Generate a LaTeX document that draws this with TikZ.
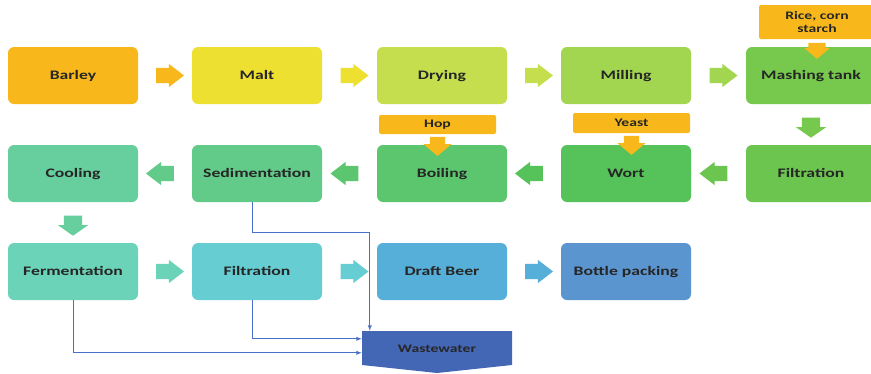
\documentclass[tikz,border=0pt]{standalone}
\usepackage{fontspec}
\setmainfont{Carlito}
\newfontfamily\boxfont[FakeStretch=1.36]{Carlito}
\usetikzlibrary{shapes.arrows,calc,arrows}

\definecolor{barleyc}{HTML}{F8B81C}
\definecolor{maltc}{HTML}{EEE030}
\definecolor{dryingc}{HTML}{C5DE4E}
\definecolor{millingc}{HTML}{A2D650}
\definecolor{mashc}{HTML}{76C94D}
\definecolor{filtac}{HTML}{6CC54F}
\definecolor{wortc}{HTML}{56C25A}
\definecolor{boilc}{HTML}{5CC66E}
\definecolor{sedimc}{HTML}{62CB8A}
\definecolor{coolc}{HTML}{67CF9E}
\definecolor{fermc}{HTML}{6AD3B8}
\definecolor{filtbc}{HTML}{66CDD3}
\definecolor{draftc}{HTML}{55AFD8}
\definecolor{bottlec}{HTML}{5B95D0}
\definecolor{wastec}{HTML}{4467B5}
\definecolor{tagc}{HTML}{F8B81C}
\definecolor{linec}{HTML}{4A6FC9}

\begin{document}
\begin{tikzpicture}[x=1pt,y=-1pt,
  box/.style={rounded corners=6pt,minimum width=130pt,minimum height=57pt,
    inner sep=0pt,text height=10pt,text depth=2.4pt,text=black!85,
    font=\boxfont\bfseries\fontsize{13}{15}\selectfont},
  tag/.style={rounded corners=2pt,fill=tagc,inner sep=0pt,align=center,
    text=black!85,font=\boxfont\bfseries\fontsize{11.5}{13}\selectfont},
  harrow/.style={single arrow,inner xsep=0pt,inner ysep=7.5pt,minimum height=28pt,
    single arrow head extend=4pt,single arrow tip angle=75},
  varrow/.style={single arrow,inner ysep=0pt,inner xsep=9pt,minimum height=20pt,
    single arrow head extend=6pt,single arrow tip angle=110,shape border rotate=270},
  tarrow/.style={varrow,inner xsep=7.5pt,minimum height=19pt,
    single arrow head extend=6.5pt,single arrow tip angle=100,fill=tagc},
  wline/.style={draw=linec,line width=0.9pt,-latex}]
  \clip (0,0) rectangle (871,373);

  % row 1
  \node[box,fill=barleyc]  (barley) at (73,75.5)  {Barley};
  \node[box,fill=maltc]    (malt)   at (257,75.5) {Malt};
  \node[box,fill=dryingc]  (drying) at (442,75.5) {Drying};
  \node[box,fill=millingc] (mill)   at (626,75.5) {Milling};
  \node[box,fill=mashc]    (mash)   at (811,75.5) {Mashing tank};
  % row 2
  \node[box,fill=coolc]  (cool)  at (73,173.5)  {Cooling};
  \node[box,fill=sedimc] (sedim) at (257,173.5) {Sedimentation};
  \node[box,fill=boilc]  (boil)  at (442,173.5) {Boiling};
  \node[box,fill=wortc]  (wort)  at (626,173.5) {Wort};
  \node[box,fill=filtac] (filta) at (811,173.5) {Filtration};
  % row 3
  \node[box,fill=fermc]   (ferm)   at (73,271.5)  {Fermentation};
  \node[box,fill=filtbc]  (filtb)  at (257,271.5) {Filtration};
  \node[box,fill=draftc]  (draft)  at (442,271.5) {Draft Beer};
  \node[box,fill=bottlec] (bottle) at (626,271.5) {Bottle packing};

  % block arrows
  \foreach \a/\b/\c/\r in {barley/malt/barleyc/0,malt/drying/maltc/0,
      drying/mill/dryingc/0,mill/mash/millingc/0,filta/wort/filtac/180,
      wort/boil/wortc/180,boil/sedim/boilc/180,sedim/cool/sedimc/180,
      ferm/filtb/fermc/0,filtb/draft/filtbc/0,draft/bottle/draftc/0}
    \node[harrow,fill=\c,shape border rotate=\r] at ($(\a)!0.5!(\b)$) {};
  \node[varrow,fill=mashc] at ($(mash)!0.5!(filta)$) {};
  \node[varrow,fill=coolc] at ($(cool)!0.5!(ferm)$) {};

  % additions
  \node[tag,minimum width=117pt,minimum height=19pt] (hop)   at (437.5,124.5) {Hop};
  \node[tag,minimum width=117pt,minimum height=20pt] (yeast) at (631.5,123)   {Yeast};
  \node[tag,minimum width=116pt,minimum height=34pt] (rice)  at (817,22)      {Rice, corn\\starch};
  \node[tarrow] at ([yshift=-9pt]hop.south) {};
  \node[tarrow] at ([yshift=-9pt]yeast.south) {};
  \node[tarrow,inner xsep=8.5pt,minimum height=16pt,single arrow head extend=4pt] at ([yshift=-8pt]rice.south) {};

  % wastewater
  \fill[wastec] (362,331) -- (512,331) -- (512,365) -- (437,373) -- (362,365) -- cycle;
  \node[minimum width=150pt,minimum height=36pt,inner sep=0pt,text=black!85,
    font=\boxfont\bfseries\fontsize{11.5}{13}\selectfont] (waste) at (437,349) {Wastewater};

  \draw[wline] ([xshift=-5pt]sedim.south) -- ++(0,30) -| ([xshift=8pt]waste.north west);
  \draw[wline] ([xshift=-5pt]filtb.south) |- ([yshift=-8pt]waste.north west);
  \draw[wline] (ferm.south) |- ([yshift=-22pt]waste.north west);
\end{tikzpicture}
\end{document}
